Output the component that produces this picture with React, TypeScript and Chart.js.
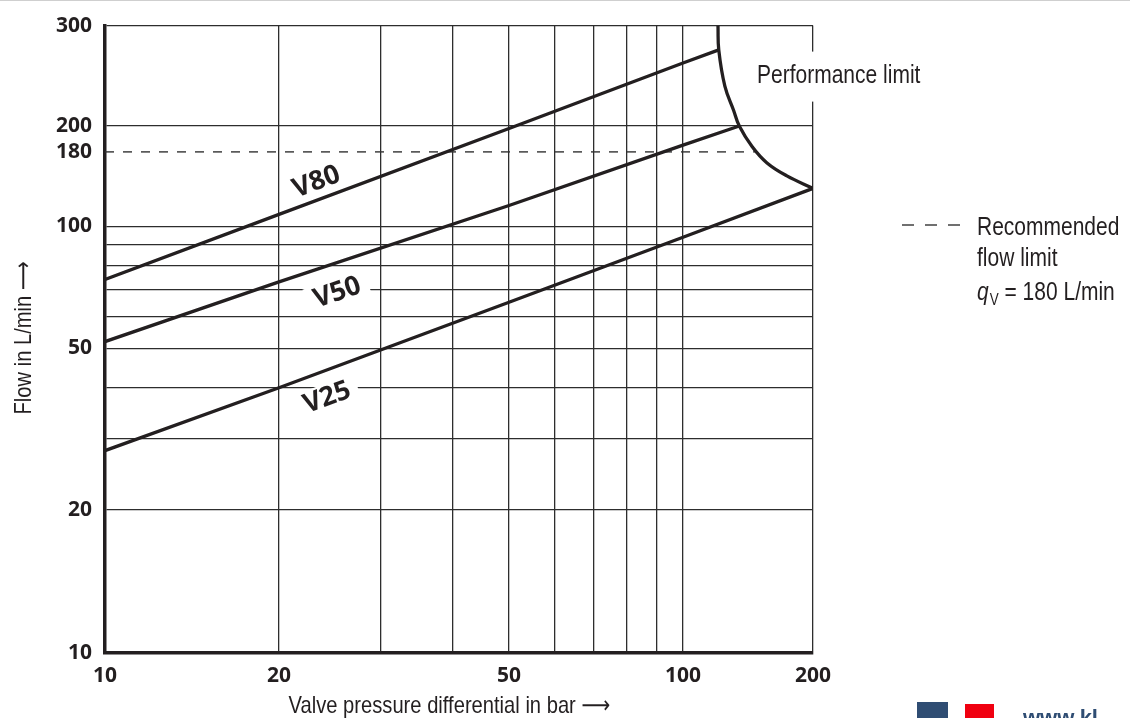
import { useEffect, useRef } from 'react';
import { Chart, registerables, LogarithmicScale } from 'chart.js';

// ---------- data ----------
const pressureTicks = [10, 20, 30, 40, 50, 60, 70, 80, 90, 100, 200];
const pressureLabels = [10, 20, 50, 100, 200];
const flowTicks = [10, 20, 30, 40, 50, 60, 70, 80, 90, 100, 180, 200, 300];
const flowLabels = [10, 20, 50, 100, 180, 200, 300];

const v80Pressure = [10, 20, 50, 100, 121];
const v80Flow = [74, 110, 198, 258, 272];
const v50Pressure = [10, 20, 50, 100, 135];
const v50Flow = [52, 73, 118, 185, 200];
const v25Pressure = [10, 20, 50, 100, 200];
const v25Flow = [28, 40, 65, 94, 135];
const limitPressure = [120.5, 121, 125, 131, 135, 144.5, 156.5, 174, 200];
const limitFlow = [300, 272, 235, 213, 200, 184, 165, 149, 135];
const recommendedPressure = [10, 147];
const recommendedFlow = [180, 180];

const seriesNames = ['V80', 'V50', 'V25'];
const seriesLabelPressure = [23.2, 25.2, 24.2];
const seriesLabelFlow = [143, 69, 38];

const xTitle = 'Valve pressure differential in bar';
const yTitle = 'Flow in L/min';
const limitTitle = 'Performance limit';
const legendLines = ['Recommended', 'flow limit'];
const legendFormula = ' = 180 L/min';

// axis warp of the original drawing (value -> fraction of the axis length)
const AXIS_WARP: Record<string, [number, number][]> = {
  x: [[10, 0], [100, 0.8164], [200, 1]],
  y: [[10, 0], [20, 0.2282], [100, 0.6799], [180, 0.7987], [200, 0.8399], [300, 1]],
};

const INK = '#231f20';
const GRID = '#2d2d2d';
const NARROW = "'Liberation Sans', 'DejaVu Sans', sans-serif";
const SQUEEZE = 0.84;
const BOLD = "'Open Sans', 'Noto Sans', sans-serif";
const ARROW = '\u27F6';

class WarpedLogScale extends LogarithmicScale {
  static id = 'warpedLog';
  static defaults = { ...(LogarithmicScale as any).defaults };

  buildTicks() {
    const list = this.id === 'x' ? pressureTicks : flowTicks;
    (this as any).start = this.min;
    (this as any).end = this.max;
    return list.map((v) => ({ value: v }));
  }

  getPixelForValue(value: number) {
    if (value === null || value === undefined || isNaN(value) || value <= 0) return NaN;
    const a = AXIS_WARP[this.id];
    let i = 0;
    while (i < a.length - 2 && value > a[i + 1][0]) i++;
    const [v0, f0] = a[i];
    const [v1, f1] = a[i + 1];
    const t = (Math.log10(value) - Math.log10(v0)) / (Math.log10(v1) - Math.log10(v0));
    return this.getPixelForDecimal(f0 + t * (f1 - f0));
  }

  getValueForPixel(pixel: number) {
    const f = this.getDecimalForPixel(pixel);
    const a = AXIS_WARP[this.id];
    let i = 0;
    while (i < a.length - 2 && f > a[i + 1][1]) i++;
    const [v0, f0] = a[i];
    const [v1, f1] = a[i + 1];
    const t = (f - f0) / (f1 - f0);
    return Math.pow(10, Math.log10(v0) + t * (Math.log10(v1) - Math.log10(v0)));
  }
}

Chart.register(...registerables, WarpedLogScale);

const pts = (xs: number[], ys: number[]) => xs.map((x, i) => ({ x, y: ys[i] }));

// condensed text (Frutiger Condensed look-alike)
function condensed(
  ctx: CanvasRenderingContext2D,
  text: string,
  x: number,
  y: number,
  size: number,
  align: CanvasTextAlign = 'left',
  rot = 0,
  italic = false,
) {
  ctx.save();
  ctx.translate(x, y);
  if (rot) ctx.rotate(rot);
  ctx.scale(SQUEEZE, 1);
  ctx.font = `${italic ? 'italic ' : ''}${size}px ${NARROW}`;
  ctx.textAlign = align;
  ctx.textBaseline = 'alphabetic';
  ctx.fillStyle = INK;
  ctx.fillText(text, 0, 0);
  const w = ctx.measureText(text).width * SQUEEZE;
  ctx.restore();
  return w;
}

const annotatePlugin = {
  id: 'annotate',
  afterDatasetsDraw(chart: any) {
    const { ctx, chartArea, scales } = chart;
    const xs = scales.x;
    const ys = scales.y;
    // series labels
    seriesNames.forEach((name, i) => {
      const meta = chart.getDatasetMeta(i).data;
      const p0 = meta[0];
      const p1 = meta[meta.length - 1];
      const ang = Math.atan2(p1.y - p0.y, p1.x - p0.x);
      const px = xs.getPixelForValue(seriesLabelPressure[i]);
      const py = ys.getPixelForValue(seriesLabelFlow[i]);
      ctx.save();
      ctx.translate(px, py);
      ctx.rotate(ang);
      ctx.font = `700 27px ${BOLD}`;
      const w = ctx.measureText(name).width;
      ctx.fillStyle = '#fff';
      ctx.fillRect(-w / 2 - 8, -13, w + 16, 26);
      ctx.fillStyle = INK;
      ctx.textAlign = 'center';
      ctx.textBaseline = 'middle';
      ctx.fillText(name, 0, 1);
      ctx.restore();
    });

    // performance limit label (interrupts the right frame)
    ctx.save();
    ctx.fillStyle = '#fff';
    ctx.fillRect(chartArea.right - 4, chartArea.top + 26, 8, 50);
    ctx.restore();
    condensed(ctx, limitTitle, chartArea.right - 56, chartArea.top + 57, 25);

    // axis titles
    const xw = condensed(ctx, xTitle + ' ', 0, -100, 24);
    const xStart = (chartArea.left + chartArea.right) / 2 - 14 - (xw + 20) / 2;
    condensed(ctx, xTitle + ' ', xStart, 713, 24);
    condensed(ctx, ARROW, xStart + xw, 713, 24);
    const yw = condensed(ctx, yTitle + ' ', -500, -100, 24);
    const yStart = (chartArea.top + chartArea.bottom) / 2 + 3 + (yw + 20) / 2;
    condensed(ctx, yTitle + ' ', 31, yStart, 24, 'left', -Math.PI / 2);
    condensed(ctx, ARROW, 31, yStart - yw, 24, 'left', -Math.PI / 2);

    // legend for the dashed line
    ctx.save();
    const lx = chartArea.right + 89;
    const ly = 225;
    ctx.strokeStyle = '#333';
    ctx.lineWidth = 1.4;
    for (let k = 0; k < 3; k++) {
      ctx.beginPath();
      ctx.moveTo(lx + k * 23, ly);
      ctx.lineTo(lx + k * 23 + 12, ly);
      ctx.stroke();
    }
    ctx.restore();
    const tx = chartArea.right + 164;
    condensed(ctx, legendLines[0], tx, 235, 25);
    condensed(ctx, legendLines[1], tx, 266, 25);
    let cx = tx + condensed(ctx, 'q', tx, 300, 25, 'left', 0, true) + 1;
    cx += condensed(ctx, 'V', cx, 305, 16);
    condensed(ctx, legendFormula, cx, 300, 25);
  },
};

export default function App() {
  const ref = useRef<HTMLCanvasElement>(null);

  useEffect(() => {
    const lineDs = (label: string, xs: number[], ys: number[], extra: any = {}) => ({
      label,
      data: pts(xs, ys),
      borderColor: INK,
      borderWidth: 3.3,
      pointRadius: 0,
      fill: false,
      tension: 0,
      ...extra,
    });
    const chart = new Chart(ref.current as HTMLCanvasElement, {
      type: 'line',
      data: {
        datasets: [
          lineDs('V80', v80Pressure, v80Flow),
          lineDs('V50', v50Pressure, v50Flow),
          lineDs('V25', v25Pressure, v25Flow),
          lineDs('Performance limit', limitPressure, limitFlow, { tension: 0.4 }),
          lineDs('Recommended flow limit', recommendedPressure, recommendedFlow, {
            borderWidth: 1.4,
            borderColor: '#333',
            borderDash: [9, 9],
          }),
        ],
      },
      options: {
        responsive: false,
        animation: false,
        layout: { padding: { top: 22, right: 317, left: 0, bottom: 0 } },
        plugins: { legend: { display: false }, tooltip: { enabled: false } },
        scales: {
          x: {
            type: 'warpedLog' as any,
            min: 10,
            max: 200,
            afterFit: (s: any) => { s.height = 65; },
            grid: { color: GRID, lineWidth: 1.3, drawTicks: false },
            border: { color: INK, width: 3.5 },
            ticks: {
              autoSkip: false,
              maxRotation: 0,
              padding: 10,
              color: INK,
              font: { family: BOLD, weight: 'bold', size: 21 },
              callback: (v: any) => (pressureLabels.includes(Number(v)) ? String(v) : ''),
            },
          },
          y: {
            type: 'warpedLog' as any,
            min: 10,
            max: 300,
            afterFit: (s: any) => { s.width = 105; },
            grid: {
              color: (c: any) => (c.tick && c.tick.value === 180 ? 'rgba(0,0,0,0)' : GRID),
              lineWidth: 1.3,
              drawTicks: false,
            },
            border: { color: INK, width: 3.5 },
            ticks: {
              autoSkip: false,
              padding: 13,
              color: INK,
              font: { family: BOLD, weight: 'bold', size: 21 },
              callback: (v: any) => (flowLabels.includes(Number(v)) ? String(v) : ''),
            },
          },
        },
      },
      plugins: [annotatePlugin],
    });
    return () => chart.destroy();
  }, []);

  return (
    <div style={{ position: 'fixed', left: 0, top: 0, width: 1130, height: 718, background: '#fff', overflow: 'hidden' }}>
      <div style={{ position: 'absolute', left: 0, top: 0, width: 1130, height: 1, background: '#cfcfcf' }} />
      <canvas ref={ref} width={1130} height={718} style={{ position: 'absolute', left: 0, top: 0, width: 1130, height: 718 }} />
      <div style={{ position: 'absolute', left: 917, top: 702, width: 31, height: 20, background: '#2f4d73' }} />
      <div style={{ position: 'absolute', left: 965, top: 704, width: 29, height: 20, background: '#f00010' }} />
      <div
        style={{
          position: 'absolute',
          left: 1023,
          top: 707,
          fontFamily: "'Liberation Sans', sans-serif",
          fontWeight: 'bold',
          fontSize: 22,
          lineHeight: '22px',
          color: '#2f4d73',
          whiteSpace: 'nowrap',
        }}
      >
        www.kl
      </div>
    </div>
  );
}
